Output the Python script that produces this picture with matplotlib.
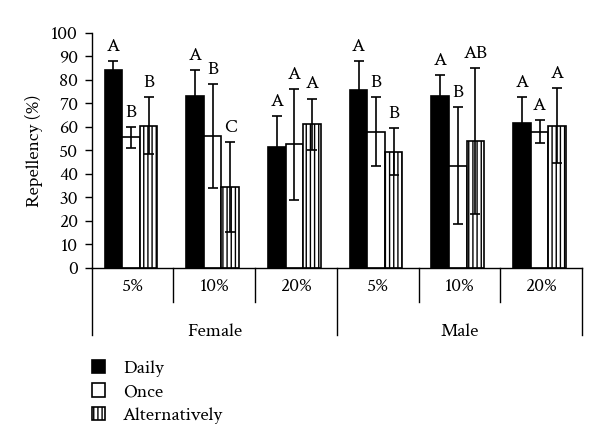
import matplotlib.pyplot as plt
import matplotlib.transforms as mtransforms
import numpy as np

plt.rcParams['font.family'] = ['Crimson Text', 'Liberation Serif', 'DejaVu Serif']
plt.rcParams['hatch.linewidth'] = 1.0

SEXES = ['Female', 'Male']
DOSES = ['5%', '10%', '20%', '5%', '10%', '20%']
TREATMENTS = ['Daily', 'Once', 'Alternatively']

daily = [84, 73, 51.5, 75.5, 73, 61.5]
daily_err = [4, 11, 13, 12.5, 9, 11]
once = [55.5, 56, 52.5, 58, 43.5, 58]
once_err = [4.5, 22, 23.5, 14.5, 25, 5]
alt = [60.5, 34.5, 61, 49.5, 54, 60.5]
alt_err = [12, 19, 11, 10, 31, 16]

daily_sig = ['A', 'A', 'A', 'A', 'A', 'A']
once_sig = ['B', 'B', 'A', 'B', 'B', 'A']
alt_sig = ['B', 'C', 'A', 'B', 'AB', 'A']

fig = plt.figure(figsize=(6, 4.47), dpi=100)
ax = fig.add_axes([0.153, 0.4004, 0.817, 0.5264])

x = np.arange(len(DOSES))
w = 0.215
series = [
    (daily, daily_err, daily_sig, dict(color='black', edgecolor='black')),
    (once, once_err, once_sig, dict(color='white', edgecolor='black')),
    (alt, alt_err, alt_sig, dict(color='white', edgecolor='black', hatch='||||')),
]
for k, (vals, errs, sig, style) in enumerate(series):
    pos = x + (k - 1) * w - 0.02
    ax.bar(pos, vals, w, linewidth=1.2, label=TREATMENTS[k], **style)
    ax.errorbar(pos, vals, yerr=errs, fmt='none', ecolor='black',
                elinewidth=1.2, capsize=3.5, capthick=1.2)
    for p, v, e, s in zip(pos, vals, errs, sig):
        ax.annotate(s, (p, v + e), xytext=(0, 4.5), textcoords='offset points',
                    ha='center', va='bottom', fontsize=14)

ax.set_xlim(-0.5, 5.5)
ax.set_ylim(0, 100)
ax.set_yticks(range(0, 101, 10))
ax.set_xticks([])
ax.tick_params(axis='y', direction='out', length=5, width=1, labelsize=14, pad=5)
ax.set_ylabel('Repellency (%)', fontsize=14, labelpad=6)
for side in ['top', 'right']:
    ax.spines[side].set_visible(False)
ax.spines['left'].set_linewidth(1)
ax.spines['bottom'].set_linewidth(1)

# category axis drawn below the bars
trans = mtransforms.blended_transform_factory(ax.transData, ax.transAxes)
for d in [0.5, 1.5, 3.5, 4.5]:
    ax.plot([d, d], [0, -0.145], color='black', lw=1, transform=trans, clip_on=False)
for d in [-0.5, 2.5, 5.5]:
    ax.plot([d, d], [0, -0.285], color='black', lw=1, transform=trans, clip_on=False)
for i, lab in enumerate(DOSES):
    ax.text(i, -0.08, lab, transform=trans, ha='center', va='center', fontsize=14)
for i, lab in enumerate(SEXES):
    ax.text(1 + 3 * i, -0.27, lab, transform=trans, ha='center', va='center', fontsize=14)

fig.legend(loc='upper left', bbox_to_anchor=(0.14, 1 - 352 / 447), frameon=False,
           handlelength=0.7, handleheight=0.7, handletextpad=0.9,
           labelspacing=0.3, fontsize=14, borderaxespad=0)

fig.savefig('out.png', dpi=100)
